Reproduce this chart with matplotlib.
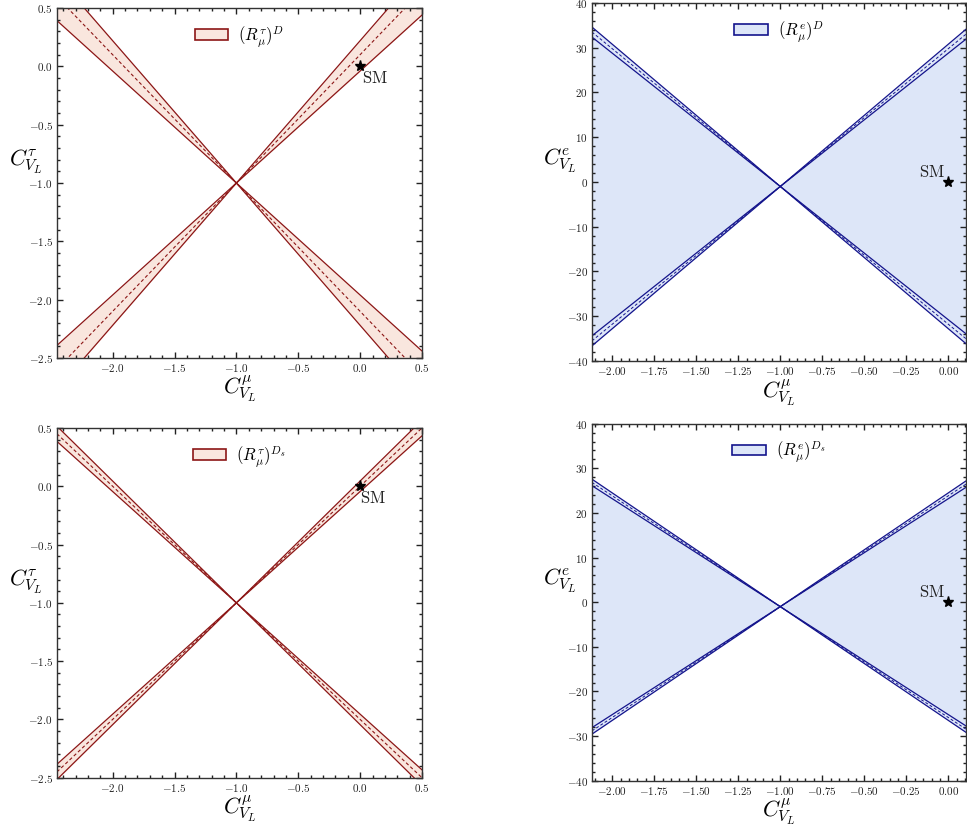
import numpy as np
import matplotlib
matplotlib.use('Agg')
import matplotlib.pyplot as plt
from matplotlib.patches import Patch
from matplotlib.ticker import MultipleLocator, FuncFormatter

plt.rcParams['mathtext.fontset'] = 'cm'
plt.rcParams['font.family'] = ['DejaVu Serif']

# allowed ratio |1 + C^l| / |1 + C^mu| : (lower edge, central, upper edge)
k_tau_D = [0.96, 1.10, 1.22]
k_tau_Ds = [0.955, 1.00, 1.045]
k_e_D = [29.8, 30.8, 31.8]
k_e_Ds = [24.2, 24.85, 25.5]

sm_point = (0.0, 0.0)

RED_LINE = '#8c1616'
RED_FILL = '#f9e6de'
BLUE_LINE = '#14148c'
BLUE_FILL = '#dde6f8'


def fmt(decimals):
    def f(v, pos):
        s = f"{v:.{decimals}f}"
        if s in ('-0.0', '-0.00', '-0'):
            s = s[1:]
        return f"${s}$"
    return FuncFormatter(f)


def style_axes(ax, xmaj, xmin, ymaj, ymin, xdec, ydec):
    ax.xaxis.set_major_locator(MultipleLocator(xmaj))
    ax.xaxis.set_minor_locator(MultipleLocator(xmin))
    ax.yaxis.set_major_locator(MultipleLocator(ymaj))
    ax.yaxis.set_minor_locator(MultipleLocator(ymin))
    ax.xaxis.set_major_formatter(fmt(xdec))
    ax.yaxis.set_major_formatter(fmt(ydec))
    ax.tick_params(which='both', direction='in', top=True, right=True,
                   labelsize=8, colors='#222222', width=1.0)
    ax.tick_params(which='major', length=4.5, pad=3)
    ax.tick_params(which='minor', length=2.5)
    for sp in ax.spines.values():
        sp.set_linewidth(1.0)
        sp.set_color('#333333')


def add_labels(ax, ylab):
    ax.set_xlabel(r'$C^{\mu}_{V_L}$', fontsize=16, va='top')
    ax.set_ylabel(ylab, fontsize=16, rotation=0, va='center', ha='center')
    ax.xaxis.set_label_coords(0.5, -0.045)
    ax.yaxis.set_label_coords(-0.085, 0.56)


def add_legend(ax, fill, edge, label, y):
    ax.legend(handles=[Patch(facecolor=fill, edgecolor=edge, lw=1.2)],
              labels=[label], loc='upper center', bbox_to_anchor=(0.5, y),
              frameon=False, fontsize=12, handlelength=2.0, handleheight=0.6,
              handletextpad=0.6)


def tau_panel(ax, k, label):
    x = np.linspace(-2.45, 0.5, 400)
    d = np.abs(1 + x)
    for sign in (1, -1):
        ax.fill_between(x, -1 + sign * k[0] * d, -1 + sign * k[2] * d,
                        color=RED_FILL, lw=0, zorder=1)
        ax.plot(x, -1 + sign * k[0] * d, color=RED_LINE, lw=0.9, zorder=2)
        ax.plot(x, -1 + sign * k[2] * d, color=RED_LINE, lw=0.9, zorder=2)
        ax.plot(x, -1 + sign * k[1] * d, color=RED_LINE, lw=0.8,
                ls=(0, (3, 2.2)), zorder=2)
    ax.set_xlim(-2.45, 0.5)
    ax.set_ylim(-2.5, 0.5)
    style_axes(ax, 0.5, 0.1, 0.5, 0.1, 1, 1)
    add_labels(ax, r'$C^{\tau}_{V_L}$')
    add_legend(ax, RED_FILL, RED_LINE, label, 0.998)


def e_panel(ax, k, label):
    x = np.linspace(-2.12, 0.105, 400)
    d = np.abs(1 + x)
    ax.fill_between(x, -1 - k[2] * d, -1 + k[2] * d, color=BLUE_FILL, lw=0, zorder=1)
    for sign in (1, -1):
        ax.plot(x, -1 + sign * k[0] * d, color=BLUE_LINE, lw=0.9, zorder=2)
        ax.plot(x, -1 + sign * k[2] * d, color=BLUE_LINE, lw=0.9, zorder=2)
        ax.plot(x, -1 + sign * k[1] * d, color=BLUE_LINE, lw=0.7,
                ls=(0, (3, 2.2)), zorder=2)
    ax.set_xlim(-2.12, 0.105)
    ax.set_ylim(-40, 40)
    style_axes(ax, 0.25, 0.05, 10, 2, 2, 0)
    add_labels(ax, r'$C^{e}_{V_L}$')
    add_legend(ax, BLUE_FILL, BLUE_LINE, label, 0.998)


fig = plt.figure(figsize=(9.67, 8.27), dpi=100)
ax1 = fig.add_axes([0.0589, 0.5671, 0.3775, 0.4232])
ax2 = fig.add_axes([0.6122, 0.5635, 0.3868, 0.4329])
ax3 = fig.add_axes([0.0589, 0.0596, 0.3775, 0.4229])
ax4 = fig.add_axes([0.6122, 0.0560, 0.3868, 0.4317])

tau_panel(ax1, k_tau_D, r'$(R^{\tau}_{\mu})^{D}$')
e_panel(ax2, k_e_D, r'$(R^{e}_{\mu})^{D}$')
tau_panel(ax3, k_tau_Ds, r'$(R^{\tau}_{\mu})^{D_s}$')
e_panel(ax4, k_e_Ds, r'$(R^{e}_{\mu})^{D_s}$')

# Standard Model point
for ax in (ax1, ax2, ax3, ax4):
    ax.plot(*sm_point, marker='*', color='black', ms=8, zorder=5, clip_on=False)
ax1.text(0.015, -0.03, r'$\mathrm{SM}$', fontsize=12, ha='left', va='top', color='#222222')
ax3.text(-0.005, -0.03, r'$\mathrm{SM}$', fontsize=12, ha='left', va='top', color='#222222')
ax2.text(-0.02, 0.3, r'$\mathrm{SM}$', fontsize=12, ha='right', va='bottom', color='#222222')
ax4.text(-0.02, 0.3, r'$\mathrm{SM}$', fontsize=12, ha='right', va='bottom', color='#222222')

fig.savefig('out.png', dpi=100)
